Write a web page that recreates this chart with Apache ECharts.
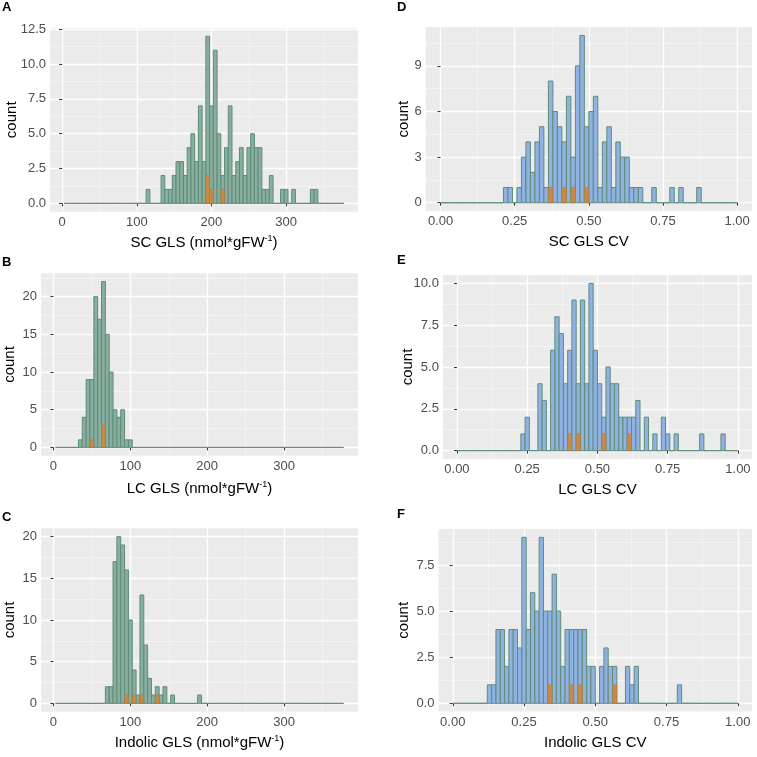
<!DOCTYPE html>
<html><head><meta charset="utf-8">
<script src="https://cdn.jsdelivr.net/npm/echarts@6/dist/echarts.min.js"></script>
<style>html,body{margin:0;padding:0;background:#fff}#c{width:757px;height:757px}</style>
</head><body><div id="c"></div><script>
// ---------- histogram bin definitions ----------
const glsBinStart = 2.5, glsBinWidth = 5, glsBinCount = 75;
const cvBinStart = 0, cvBinWidth = 1 / 66, cvBinCount = 66;

// ---------- A: SC GLS ----------
const scCenters = [115,135,140,145,150,155,160,165,170,175,180,185,190,195,200,205,210,215,220,225,230,235,240,245,250,255,260,265,270,275,280,295,300,310,335,340];
const scCounts  = [1,  2,  1,  1,  2,  3,  3,  2,  4,  5,  3,  7,  3,  12, 7,  11, 5,  2,  4,  7,  2,  3,  4,  2,  4,  5,  4,  4,  1,  1,  2,  1,  1,  1,  1,  1];
const scParentCenters = [195,200,215];
const scParentCounts  = [2,1,1];

// ---------- B: LC GLS ----------
const lcCenters = [35,40,45,50,55,60,65,70,75,80,85,90,95,100];
const lcCounts  = [1, 4, 9, 9, 20,17,22,15,10,5, 4, 5, 1, 1];
const lcParentCenters = [50,65];
const lcParentCounts  = [1,3];

// ---------- C: Indolic GLS ----------
const inCenters = [70,75,80,85,90,95,100,105,110,115,120,125,130,135,140,145,155,190];
const inCounts  = [2, 2, 17,20,19,16,10, 4,  1,  13, 7,  3,  1,  2,  1,  2,  1,  1];
const inParentCenters = [95,105,115,135];
const inParentCounts  = [1,1,1,1];

// ---------- D: SC GLS CV ----------
const scCvCenters = [.220,.235,.265,.280,.295,.311,.326,.341,.356,.371,.386,.402,.417,.432,.447,.462,.477,.492,.508,.523,.538,.553,.568,.583,.598,.614,.629,.644,.659,.674,.720,.780,.811,.871];
const scCvCounts  = [1,   1,   1,   3,   4,   2,   4,   5,   1,   8,   6,   5,   4,   7,   3,   9,   11,  5,   6,   7,   1,   4,   5,   1,   4,   3,   3,   1,   1,   1,   1,   1,   1,   1];
const scCvParentCenters = [.371,.417,.447,.492];
const scCvParentCounts  = [1,1,1,1];

// ---------- E: LC GLS CV ----------
const lcCvCenters = [.235,.250,.295,.311,.341,.356,.371,.386,.402,.417,.432,.447,.462,.477,.492,.508,.523,.538,.553,.568,.583,.598,.614,.629,.644,.674,.705,.735,.750,.780,.871,.947];
const lcCvCounts  = [1,   2,   4,   3,   6,   8,   7,   4,   6,   9,   4,   9,   4,   10,  6,   4,   2,   5,   4,   4,   2,   2,   2,   2,   3,   2,   1,   2,   1,   1,   1,   1];
const lcCvParentCenters = [.402,.432,.523,.614];
const lcCvParentCounts  = [1,1,1,1];

// ---------- F: Indolic GLS CV ----------
const inCvCenters = [.129,.144,.159,.174,.189,.205,.220,.235,.250,.265,.280,.295,.311,.326,.341,.356,.371,.386,.402,.417,.432,.447,.462,.477,.492,.523,.538,.553,.568,.614,.629,.644,.795];
const inCvCounts  = [1,   1,   4,   4,   2,   4,   4,   3,   9,   4,   6,   5,   9,   5,   5,   7,   5,   2,   4,   4,   4,   4,   4,   2,   2,   2,   3,   2,   2,   2,   1,   2,   1];
const inCvParentCenters = [.341,.417,.447,.568];
const inCvParentCounts  = [1,1,1,1];

// ---------- axis ticks ----------
const glsTicks = [0,100,200,300];
const glsMinorTicks = [50,150,250,350];
const cvTicks = [0,0.25,0.5,0.75,1];
const cvMinorTicks = [0.125,0.375,0.625,0.875];
const yTicksA = [0,2.5,5,7.5,10,12.5], yMinorA = [1.25,3.75,6.25,8.75,11.25];
const yTicksB = [0,5,10,15,20], yMinorB = [2.5,7.5,12.5,17.5,22.5];
const yTicksC = [0,5,10,15,20], yMinorC = [2.5,7.5,12.5,17.5];
const yTicksD = [0,3,6,9], yMinorD = [1.5,4.5,7.5,10.5];
const yTicksE = [0,2.5,5,7.5,10], yMinorE = [1.25,3.75,6.25,8.75];
const yTicksF = [0,2.5,5,7.5], yMinorF = [1.25,3.75,6.25,8.75];

// ---------- helpers ----------
function buildBins(start, width, n, centers, counts) {
  const bins = [];
  for (let i = 0; i < n; i++) bins.push([start + i * width, start + (i + 1) * width, 0]);
  centers.forEach((c, k) => { const i = Math.floor((c - start) / width); bins[i][2] = counts[k]; });
  return bins;
}
function buildParent(start, width, centers, counts) {
  return centers.map((c, k) => { const i = Math.floor((c - start) / width); return [start + i * width, start + (i + 1) * width, counts[k]]; });
}
function histRender(fill, stroke, lw) {
  return function (params, api) {
    const a = api.coord([api.value(0), 0]);
    const b = api.coord([api.value(1), api.value(2)]);
    return { type: 'rect', shape: { x: a[0], y: b[1], width: b[0] - a[0], height: a[1] - b[1] },
      style: { fill: fill, stroke: stroke, lineWidth: lw } };
  };
}
const FONT = 'Liberation Sans, Arial, sans-serif';
const GREEN = '#87AE9F', GREEN_LINE = '#5F8C79', BLUE = '#8FB2E3', ORANGE = '#C98A45', ORANGE_LINE = '#B07A3E';

const panels = [
  { L:'A', grid:{left:50, top:27.9, width:308, height:183.8}, x:[-16.25,396.25], xt:glsTicks, xm:glsMinorTicks, xf:v=>String(v),
    y:[-0.6,12.6], yt:yTicksA, ym:yMinorA, yf:v=>v.toFixed(1), yGap:31, xGap:22, title:['SC GLS (nmol*gFW','-1',')'],
    bins:buildBins(glsBinStart,glsBinWidth,glsBinCount,scCenters,scCounts), par:buildParent(glsBinStart,glsBinWidth,scParentCenters,scParentCounts), fill:GREEN, lp:[2,1] },
  { L:'B', grid:{left:41, top:273.3, width:317, height:182.4}, x:[-16.25,396.25], xt:glsTicks, xm:glsMinorTicks, xf:v=>String(v),
    y:[-1.1,23.1], yt:yTicksB, ym:yMinorB, yf:v=>String(v), yGap:24, xGap:24, title:['LC GLS (nmol*gFW','-1',')'],
    bins:buildBins(glsBinStart,glsBinWidth,glsBinCount,lcCenters,lcCounts), par:buildParent(glsBinStart,glsBinWidth,lcParentCenters,lcParentCounts), fill:GREEN, lp:[2,256] },
  { L:'C', grid:{left:41, top:528.3, width:317, height:183.4}, x:[-16.25,396.25], xt:glsTicks, xm:glsMinorTicks, xf:v=>String(v),
    y:[-1,21], yt:yTicksC, ym:yMinorC, yf:v=>String(v), yGap:24, xGap:22, title:['Indolic GLS (nmol*gFW','-1',')'],
    bins:buildBins(glsBinStart,glsBinWidth,glsBinCount,inCenters,inCounts), par:buildParent(glsBinStart,glsBinWidth,inParentCenters,inParentCounts), fill:GREEN, lp:[2,511] },
  { L:'D', grid:{left:425.7, top:27.1, width:326.3, height:184}, x:[-0.05,1.05], xt:cvTicks, xm:cvMinorTicks, xf:v=>v.toFixed(2),
    y:[-0.55,11.55], yt:yTicksD, ym:yMinorD, yf:v=>String(v), yGap:14, xGap:22, title:['SC GLS CV'],
    bins:buildBins(cvBinStart,cvBinWidth,cvBinCount,scCvCenters,scCvCounts), par:buildParent(cvBinStart,cvBinWidth,scCvParentCenters,scCvParentCounts), fill:BLUE, lp:[397,1] },
  { L:'E', grid:{left:442.9, top:275, width:309.1, height:184}, x:[-0.05,1.05], xt:cvTicks, xm:cvMinorTicks, xf:v=>v.toFixed(2),
    y:[-0.5,10.5], yt:yTicksE, ym:yMinorE, yf:v=>v.toFixed(1), yGap:28, xGap:22, title:['LC GLS CV'],
    bins:buildBins(cvBinStart,cvBinWidth,cvBinCount,lcCvCenters,lcCvCounts), par:buildParent(cvBinStart,cvBinWidth,lcCvParentCenters,lcCvParentCounts), fill:BLUE, lp:[397,254] },
  { L:'F', grid:{left:438.5, top:529, width:313.5, height:182.6}, x:[-0.05,1.05], xt:cvTicks, xm:cvMinorTicks, xf:v=>v.toFixed(2),
    y:[-0.45,9.45], yt:yTicksF, ym:yMinorF, yf:v=>v.toFixed(1), yGap:27, xGap:22, title:['Indolic GLS CV'],
    bins:buildBins(cvBinStart,cvBinWidth,cvBinCount,inCvCenters,inCvCounts), par:buildParent(cvBinStart,cvBinWidth,inCvParentCenters,inCvParentCounts), fill:BLUE, lp:[397,508] }
];

const grids = [], xAxes = [], yAxes = [], series = [], graphics = [];
panels.forEach((p, i) => {
  grids.push(Object.assign({ show:true, backgroundColor:'#EBEBEB', borderWidth:0, containLabel:false, outerBoundsMode:'none' }, p.grid));
  const titleRich = p.title.length === 3 ? '{t|' + p.title[0] + '}{s|' + p.title[1] + '}{t|' + p.title[2] + '}' : '{t|' + p.title[0] + '}';
  // main x axis
  xAxes.push({ gridIndex:i, type:'value', min:p.x[0], max:p.x[1], position:'bottom',
    axisLine:{show:false},
    axisTick:{show:true, length:3, lineStyle:{color:'#333', width:1}, customValues:p.xt},
    axisLabel:{customValues:p.xt, formatter:p.xf, color:'#4D4D4D', fontSize:13, fontFamily:FONT, margin:4},
    splitLine:{show:true, lineStyle:{color:'#FFFFFF', width:1.3}},
    name:titleRich, nameLocation:'middle', nameGap:p.xGap, nameMoveOverlap:false,
    nameTextStyle:{ rich:{ t:{fontSize:15, color:'#000', fontFamily:FONT, lineHeight:18},
                           s:{fontSize:9, color:'#000', fontFamily:FONT, verticalAlign:'top', lineHeight:12} } } });
  // minor x axis (grid lines only)
  xAxes.push({ gridIndex:i, type:'value', min:p.x[0], max:p.x[1], position:'bottom',
    axisLine:{show:false}, axisTick:{show:false, customValues:p.xm}, axisLabel:{show:false, customValues:p.xm},
    splitLine:{show:true, lineStyle:{color:'#F6F6F6', width:0.7}} });
  yAxes.push({ gridIndex:i, type:'value', min:p.y[0], max:p.y[1], position:'left',
    axisLine:{show:false},
    axisTick:{show:true, length:3, lineStyle:{color:'#333', width:1}, customValues:p.yt},
    axisLabel:{customValues:p.yt, formatter:p.yf, color:'#4D4D4D', fontSize:13, fontFamily:FONT, margin:4},
    splitLine:{show:true, lineStyle:{color:'#FFFFFF', width:1.3}},
    name:'count', nameLocation:'middle', nameGap:p.yGap, nameRotate:90, nameMoveOverlap:false,
    nameTextStyle:{fontSize:15, color:'#000', fontFamily:FONT} });
  yAxes.push({ gridIndex:i, type:'value', min:p.y[0], max:p.y[1], position:'left',
    axisLine:{show:false}, axisTick:{show:false, customValues:p.ym}, axisLabel:{show:false, customValues:p.ym},
    splitLine:{show:true, lineStyle:{color:'#F6F6F6', width:0.7}} });
  const xi = i * 2, yi = i * 2;
  series.push({ type:'custom', xAxisIndex:xi, yAxisIndex:yi, renderItem:histRender(p.fill, GREEN_LINE, 1),
    data:p.bins, encode:{x:[0,1], y:2}, silent:true, z:2 });
  series.push({ type:'custom', xAxisIndex:xi, yAxisIndex:yi, renderItem:histRender(ORANGE, ORANGE_LINE, 0.6),
    data:p.par, encode:{x:[0,1], y:2}, silent:true, z:3 });
  graphics.push({ type:'text', left:p.lp[0], top:p.lp[1], style:{ text:p.L, font:'bold 13px ' + FONT, fill:'#000' } });
});

const chart = echarts.init(document.getElementById('c'), null, { renderer:'canvas' });
chart.setOption({ animation:false, backgroundColor:'#FFFFFF', grid:grids, xAxis:xAxes, yAxis:yAxes, series:series, graphic:graphics });
</script></body></html>
